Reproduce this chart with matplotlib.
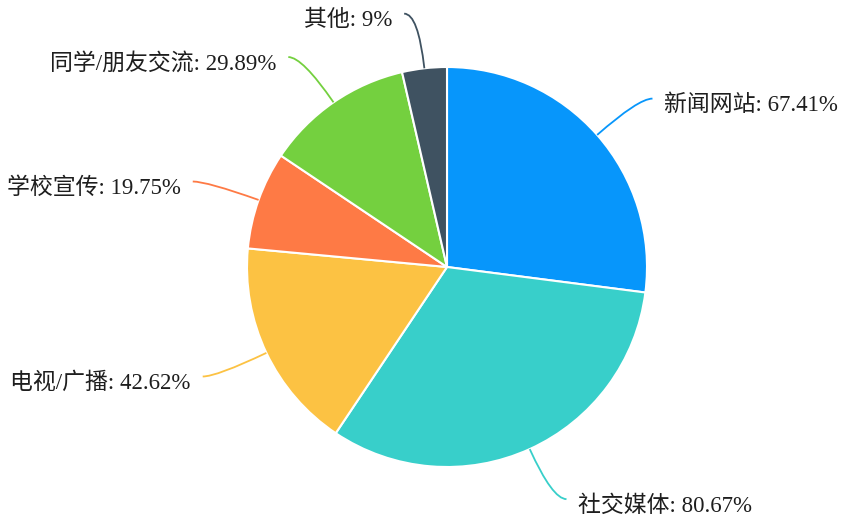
import numpy as np
import matplotlib
matplotlib.use("Agg")
import matplotlib.pyplot as plt
from matplotlib.path import Path
import matplotlib.patches as mpatches

#------------------------- Data ------------------------------
labels = ["新闻网站", "社交媒体", "电视/广播", "学校宣传", "同学/朋友交流", "其他"]
values = [67.41, 80.67, 42.62, 19.75, 29.89, 9]
valueText = ["67.41%", "80.67%", "42.62%", "19.75%", "29.89%", "9%"]
colors = ["#0796FB", "#38CFCA", "#FCC243", "#FE7A45", "#74D03F", "#3F5261"]

#------------------------- Layout ------------------------------
W, H = 849, 531
CX, CY = 447, H - 267
R = 200
FONT = ["Liberation Serif", "Noto Sans CJK SC"]

fig = plt.figure(figsize=(W / 100, H / 100), dpi=100)
ax = fig.add_axes([0, 0, 1, 1])

wedges, _ = ax.pie(values, colors=colors, startangle=90, counterclock=False,
                   center=(CX, CY), radius=R, frame=True,
                   wedgeprops=dict(edgecolor="white", linewidth=1.5))

# pie() sets its own limits, so fix them afterwards (axes in pixel units)
ax.set_xlim(0, W)
ax.set_ylim(0, H)
ax.set_aspect("equal")
ax.axis("off")

# leader lines + labels
for w, lab, txt, col in zip(wedges, labels, valueText, colors):
    mid = np.deg2rad((w.theta1 + w.theta2) / 2)
    c, s = np.cos(mid), np.sin(mid)
    p0 = (CX + R * c, CY + R * s)
    p1 = (CX + 255 * c, CY + 255 * s)
    side = 1 if c >= 0 else -1
    p2 = (p1[0] + side * 14, p1[1])
    path = Path([p0, p1, p2], [Path.MOVETO, Path.CURVE3, Path.CURVE3])
    ax.add_patch(mpatches.PathPatch(path, facecolor="none", edgecolor=col, lw=1.3))
    ax.text(p2[0] + side * 12, p2[1] - 7, lab + ": " + txt,
            ha="left" if side > 0 else "right", va="center",
            fontsize=16.5, color="#1e1e1e", family=FONT)

plt.savefig("out.png", dpi=100)
